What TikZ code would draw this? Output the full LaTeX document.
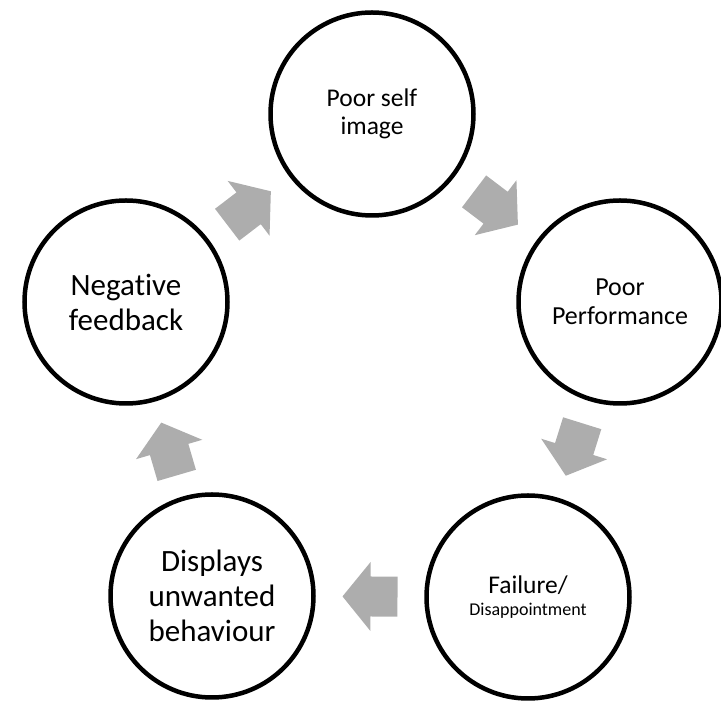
\documentclass[tikz,border=0pt]{standalone}
\usepackage{fontspec}
\setmainfont{Carlito}[Ligatures={NoCommon,NoRare,NoContextual}]
\usetikzlibrary{calc}
\definecolor{arrowgray}{RGB}{173,173,173}
\tikzset{
  stage/.style={circle, draw=black, line width=4.5pt, minimum size=203pt, inner sep=0pt, align=center, text=black},
  cyclearr/.pic={\fill[arrowgray] (-27.5,-20) -- (-0.5,-20) -- (-0.5,-34.5) -- (27.5,0) -- (-0.5,34.5) -- (-0.5,20) -- (-27.5,20) -- cycle;}
}
\begin{document}
\begin{tikzpicture}[x=1pt,y=1pt]
\useasboundingbox (0,0) rectangle (721,701);
\node[stage, font=\fontsize{25.5}{28}\selectfont] (self) at (372,587) {Poor self\\image};
\node[stage, font=\fontsize{26}{29}\selectfont] (perf) at (620,399) {Poor\\Performance};
\node[stage, font=\fontsize{25.5}{22.7}\selectfont] (fail) at (528,104) {Failure/\\{\fontsize{18}{22.7}\selectfont Disappointment}};
\node[stage, font=\fontsize{31}{35}\selectfont] (disp) at (212,105) {Displays\\unwanted\\behaviour};
\node[stage, font=\fontsize{31}{35}\selectfont] (neg) at (126,399) {Negative\\feedback};
\foreach \a/\b in {self/perf, perf/fail, fail/disp, disp/neg, neg/self}
  \path let \p1=($(\b)-(\a)$), \n1={atan2(\y1,\x1)} in pic[rotate=\n1] at ($(\a)!0.5!(\b)$) {cyclearr};
\end{tikzpicture}
\end{document}
